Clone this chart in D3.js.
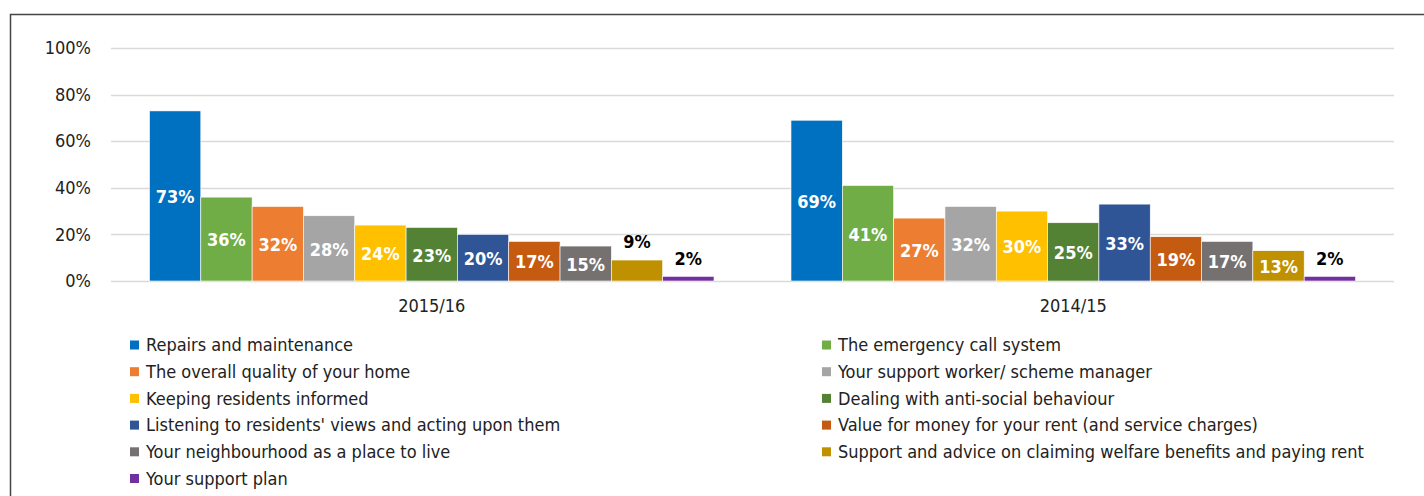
<!DOCTYPE html>
<html>
<head>
<meta charset="utf-8">
<script src="https://cdn.jsdelivr.net/npm/d3@7"></script>
<style>
  body { margin: 0; background: #fff; }
  text { font-family: "Liberation Sans Narrow", "DejaVu Sans Condensed", sans-serif; }
</style>
</head>
<body>
<svg id="chart" width="1424" height="496"></svg>
<script>
// chart data
const years = ["2015/16", "2014/15"];
const seriesNames = [
  "Repairs and maintenance",
  "The emergency call system",
  "The overall quality of your home",
  "Your support worker/ scheme manager",
  "Keeping residents informed",
  "Dealing with anti-social behaviour",
  "Listening to residents' views and acting upon them",
  "Value for money for your rent (and service charges)",
  "Your neighbourhood as a place to live",
  "Support and advice on claiming welfare benefits and paying rent",
  "Your support plan"
];
const values2015 = [73, 36, 32, 28, 24, 23, 20, 17, 15, 9, 2];
const values2014 = [69, 41, 27, 32, 30, 25, 33, 19, 17, 13, 2];
const yTicks = [0, 20, 40, 60, 80, 100];
const colors = ["#0070C0", "#70AD47", "#ED7D31", "#A5A5A5", "#FFC000", "#548235",
  "#2F5597", "#C55A11", "#767171", "#BF9000", "#7030A0"];

const font = "'Liberation Sans Narrow', 'DejaVu Sans Condensed', sans-serif";

let svg = d3.select("#chart");

// outer frame
svg.append("rect")
  .attr("x", 10.5).attr("y", 14.5)
  .attr("width", 1500).attr("height", 600)
  .attr("fill", "none")
  .attr("stroke", "#444")
  .attr("stroke-width", 1.5);

let plot = {left: 111, right: 1394, top: 48, bottom: 281};

let x0 = d3.scaleBand().domain(years).range([plot.left, plot.right]).paddingInner(0).paddingOuter(0);
let x1 = d3.scaleBand().domain(d3.range(seriesNames.length))
  .range([0, x0.bandwidth()]).paddingOuter(0.75).paddingInner(0);
let y = d3.scaleLinear().domain([0, 100]).range([plot.bottom, plot.top]);

// gridlines
svg.append("g").selectAll("line")
  .data(yTicks)
  .enter().append("line")
  .attr("x1", plot.left).attr("x2", plot.right)
  .attr("y1", d => Math.round(y(d)) + 0.5).attr("y2", d => Math.round(y(d)) + 0.5)
  .attr("stroke", "#d9d9d9")
  .attr("stroke-width", 1.3);

// y axis labels
let yAxis = svg.append("g")
  .attr("transform", "translate(" + (plot.left - 17) + ",0)")
  .call(d3.axisLeft(y).tickValues(yTicks).tickSize(0).tickFormat(d => d + "%"));
yAxis.select(".domain").remove();
yAxis.selectAll("text")
  .attr("font-size", 18).attr("fill", "#222")
  .style("font-family", font);

// x axis labels
let xAxis = svg.append("g")
  .attr("transform", "translate(0," + (plot.bottom + 15) + ")")
  .call(d3.axisBottom(x0).tickSize(0));
xAxis.select(".domain").remove();
xAxis.selectAll("text")
  .attr("font-size", 18).attr("fill", "#222")
  .style("font-family", font);

let table = years.map((yr, i) => ({
  year: yr,
  vals: (i === 0 ? values2015 : values2014).map((v, j) => ({v: v, s: j}))
}));

let groups = svg.append("g").selectAll("g")
  .data(table)
  .enter().append("g")
  .attr("transform", d => "translate(" + x0(d.year) + ",0)");

groups.selectAll("rect")
  .data(d => d.vals)
  .enter().append("rect")
  .attr("x", d => x1(d.s))
  .attr("y", d => y(d.v))
  .attr("width", x1.bandwidth())
  .attr("height", d => y(0) - y(d.v))
  .attr("fill", d => colors[d.s])
  .attr("stroke", "#fff")
  .attr("stroke-width", 0.6);

groups.selectAll("text")
  .data(d => d.vals)
  .enter().append("text")
  .attr("x", d => x1(d.s) + x1.bandwidth() / 2)
  .attr("y", d => d.v < 12 ? y(d.v) - 18 : (y(d.v) + y(0)) / 2 + 1)
  .attr("dy", "0.35em")
  .attr("text-anchor", "middle")
  .attr("font-size", 18)
  .attr("font-weight", "bold")
  .attr("fill", d => d.v < 12 ? "#000" : "#fff")
  .text(d => d.v + "%");

// legend
let legend = svg.append("g").selectAll("g")
  .data(seriesNames)
  .enter().append("g")
  .attr("transform", (d, i) => "translate(" + (i % 2 === 0 ? 130 : 822) + "," + (345 + Math.floor(i / 2) * 26.7) + ")");

legend.append("rect")
  .attr("x", 0).attr("y", -4.5)
  .attr("width", 9).attr("height", 9)
  .attr("fill", (d, i) => colors[i]);

legend.append("text")
  .attr("x", 16)
  .attr("dy", "0.35em")
  .attr("font-size", 18)
  .attr("fill", "#222")
  .text(d => d);
</script>
</body>
</html>
